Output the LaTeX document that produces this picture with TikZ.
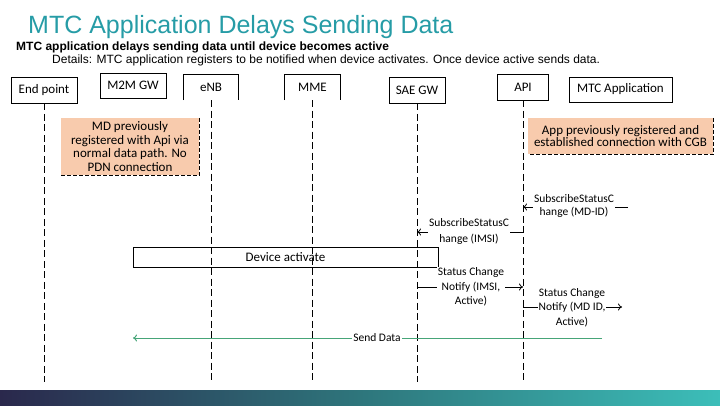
\documentclass[tikz,border=0pt]{standalone}
\usepackage{fontspec}
\setmainfont{Carlito}
\newfontfamily\arialf{Liberation Sans}
\usetikzlibrary{arrows.meta}
\definecolor{titlecol}{RGB}{38,156,166}
\definecolor{noteor}{RGB}{248,203,173}
\definecolor{sendgreen}{RGB}{70,165,120}
\definecolor{barL}{RGB}{42,40,76}
\definecolor{barM}{RGB}{46,118,124}
\definecolor{barR}{RGB}{60,190,185}
\begin{document}
\begin{tikzpicture}[x=1pt,y=-1pt,
  hdr/.style={draw, line width=0.8pt, inner sep=0pt, font=\fontsize{13}{15}\selectfont},
  openhdr/.style={inner sep=0pt, font=\fontsize{13}{15}\selectfont},
  life/.style={line width=0.8pt, dash pattern=on 7pt off 3.5pt},
  notebox/.style={fill=noteor, inner sep=0pt, align=center, font=\fontsize{13}{13.5}\selectfont},
  notedash/.style={line width=0.8pt, dash pattern=on 4pt off 2pt},
  msg/.style={line width=0.8pt, -{To[length=4pt,width=7pt]}},
  lbl/.style={fill=white, inner sep=1pt, align=center, font=\fontsize{11.5}{14.5}\selectfont},
]
\useasboundingbox (0,0) rectangle (720,405);

% title and subtitles
\node[anchor=base west, inner sep=0pt, text=titlecol, font=\arialf\fontsize{25}{30}\selectfont] (title) at (28,33) {MTC Application Delays Sending Data};
\node[anchor=base west, inner sep=0pt, font=\arialf\bfseries\fontsize{12}{13}\selectfont] (sub1) at (16,50) {MTC application delays sending data until device becomes active};
\node[anchor=base west, inner sep=0pt, font=\arialf\fontsize{12}{13}\selectfont] (sub2) at (52,63) {Details: MTC application registers to be notified when device activates. Once device active sends data.};

% headers
\node[hdr, minimum width=66pt, minimum height=26pt] (ep) at (44,90) {End point};
\node[hdr, minimum width=66pt, minimum height=25pt] (m2m) at (133,85.5) {M2M GW};
\node[openhdr, minimum width=55pt, minimum height=25pt] (enb) at (211,87.5) {eNB};
\draw[line width=0.8pt] (enb.south west) -- (enb.north west) -- (enb.north east) -- (enb.south east);
\node[openhdr, minimum width=55pt, minimum height=25pt] (mme) at (312.5,87.5) {MME};
\draw[line width=0.8pt] (mme.south west) -- (mme.north west) -- (mme.north east) -- (mme.south east);
\node[hdr, minimum width=56pt, minimum height=26pt] (sae) at (417,90) {SAE GW};
\node[hdr, minimum width=51pt, minimum height=26pt] (api) at (523,87) {API};
\node[hdr, minimum width=103pt, minimum height=25pt] (mtc) at (620.5,89.5) {MTC Application};

% lifelines
\coordinate (bottom) at (0,382);
\draw[life] (ep.south) -- (ep.south |- bottom);
\draw[life] (enb.south) -- (enb.south |- bottom);
\draw[life] (mme.south) -- (mme.south |- bottom);
\draw[life] (sae.south) -- (sae.south |- bottom);
\draw[life] (api.south) -- (api.south |- bottom);

% notes
\node[notebox, minimum width=138pt, minimum height=57pt] (n1) at (130,146.5) {MD previously\\registered with Api via\\normal data path. No\\PDN connection};
\draw[notedash] (n1.north east) -- (n1.south east) -- (n1.south west);
\node[notebox, minimum width=185pt, minimum height=36pt, font=\fontsize{13}{12.5}\selectfont] (n2) at (620.5,136) {App previously registered and\\established connection with CGB};
\draw[notedash] (n2.north east) -- (n2.south east) -- (n2.south west);

% device activate
\node[draw, line width=0.8pt, minimum width=305pt, minimum height=20pt, inner sep=0pt, font=\fontsize{13}{15}\selectfont] (dev) at (285.5,257) {Device activate};

% messages
\coordinate (m1s) at (628,207);
\draw[msg] (m1s) -- (api.south |- m1s);
\node[lbl, font=\fontsize{11.5}{13}\selectfont] (l1) at (574,206) {SubscribeStatusC\\hange (MD-ID)};

\coordinate (m2y) at (0,232);
\draw[msg] (api.south |- m2y) -- (sae.south |- m2y);
\node[lbl, font=\fontsize{11.5}{16}\selectfont] (l2) at (469,231.5) {SubscribeStatusC\\hange (IMSI)};

\coordinate (m3y) at (0,287);
\draw[msg] (sae.south |- m3y) -- (api.south |- m3y);
\node[lbl] (l3) at (471,287) {Status Change\\Notify (IMSI,\\Active)};

\coordinate (m4e) at (622,307);
\draw[msg] (api.south |- m4e) -- (m4e);
\node[lbl] (l4) at (572,307.5) {Status Change\\Notify (MD ID,\\Active)};

\coordinate (m5s) at (602,338);
\coordinate (m5e) at (133,338);
\draw[msg, draw=sendgreen, line width=1pt] (m5s) -- (m5e);
\node[lbl, font=\fontsize{11.5}{13}\selectfont] (l5) at (377,338) {Send Data};

% bottom bar
\shade[left color=barL, right color=barR, middle color=barM] (0,390) rectangle (720,405);
\end{tikzpicture}
\end{document}
